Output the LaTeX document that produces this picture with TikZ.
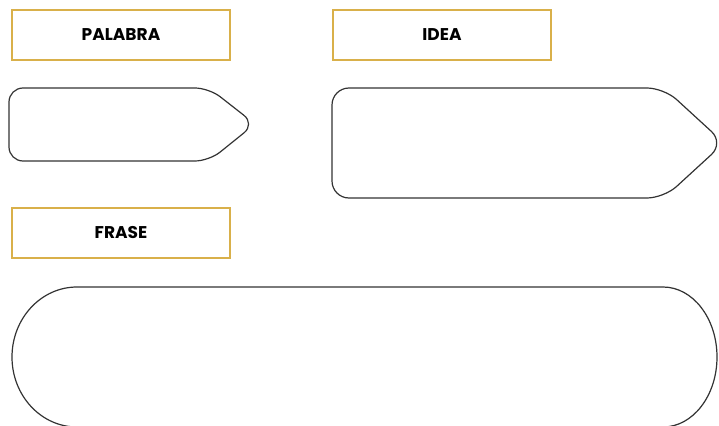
\documentclass[tikz,border=0pt]{standalone}
\usepackage{fontspec}
\usepackage{tikz}
\usetikzlibrary{positioning}
\newfontfamily\tagfont{Poppins}
\definecolor{taggold}{HTML}{D9B04A}
\definecolor{lineink}{HTML}{333333}

\begin{document}
\begin{tikzpicture}[
      x=1pt, y=-1pt,
      tag/.style={
        rectangle,
        draw=taggold,
        line width=2pt,
        outer sep=0pt,
        minimum width=218pt,
        minimum height=50pt,
        align=center,
        font=\tagfont\bfseries\fontsize{17}{20}\selectfont
      },
      answer/.style={draw=lineink, line width=1.2pt, rounded corners=14pt}
    ]
      \useasboundingbox (0,0) rectangle (719,425);

      \node[tag] at (121,35) (palabra) {PALABRA};
      \node[tag, right=103pt of palabra] (idea) {IDEA};
      \node[tag, below=148pt of palabra] (frase) {FRASE};

      % writing spaces
      \draw[answer] (100,88) -- (209,88) -- (255,124) -- (209,161)
        -- (9,161) -- (9,88) -- cycle;
      \draw[answer, rounded corners=17pt] (450,88) -- (664,88) -- (724,143)
        -- (664,198) -- (332,198) -- (332,88) -- cycle;
      \draw[draw=lineink, line width=1.2pt] (77,287) -- (663,287)
        arc[start angle=-90, end angle=90, x radius=54, y radius=70]
        -- (77,427)
        arc[start angle=90, end angle=270, x radius=65, y radius=70]
        -- cycle;
    \end{tikzpicture}
\end{document}
